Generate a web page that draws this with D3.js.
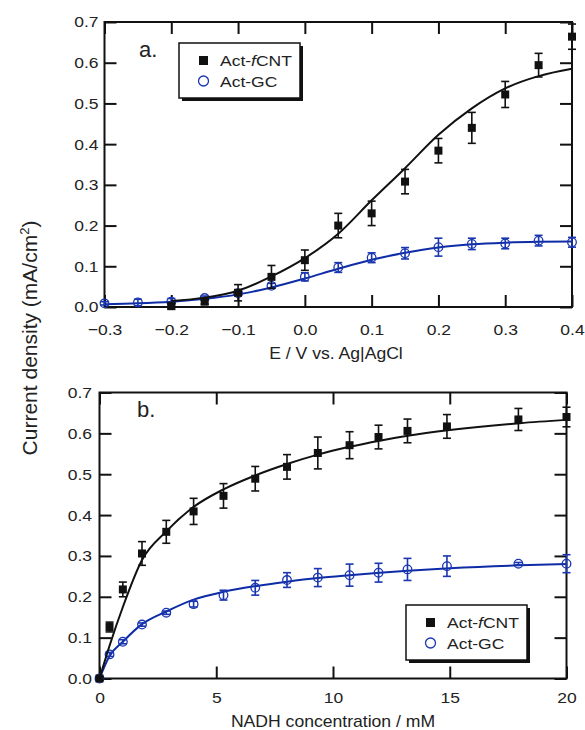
<!DOCTYPE html>
<html>
<head>
<meta charset="utf-8">
<script src="https://d3js.org/d3.v7.min.js"></script>
<style>
  body { margin: 0; background: #fff; }
  text { font-family: Arial, "Liberation Sans", sans-serif; fill: #222; }
</style>
</head>
<body>
<svg width="585" height="730" id="mainsvg"></svg>
<script>
// ---- panel a: current vs potential ----
const potGC   = [-0.3, -0.25, -0.2, -0.15, -0.1, -0.05, 0.0, 0.05, 0.1, 0.15, 0.2, 0.25, 0.3, 0.35, 0.4];
const jGC     = [0.009, 0.011, 0.013, 0.022, 0.034, 0.052, 0.074, 0.097, 0.121, 0.132, 0.147, 0.155, 0.156, 0.163, 0.159];
const errGC   = [0.004, 0.008, 0.008, 0.005, 0.006, 0.006, 0.010, 0.012, 0.012, 0.014, 0.022, 0.014, 0.013, 0.013, 0.012];
const fitGC   = [0.007, 0.009, 0.013, 0.020, 0.031, 0.048, 0.070, 0.094, 0.116, 0.133, 0.146, 0.154, 0.158, 0.160, 0.161];

const potCNT  = [-0.2, -0.15, -0.1, -0.05, 0.0, 0.05, 0.1, 0.15, 0.2, 0.25, 0.3, 0.35, 0.4];
const jCNT    = [0.002, 0.013, 0.035, 0.074, 0.115, 0.200, 0.230, 0.308, 0.384, 0.440, 0.522, 0.594, 0.664];
const errCNT  = [0.007, 0.006, 0.020, 0.028, 0.025, 0.030, 0.030, 0.030, 0.030, 0.038, 0.032, 0.029, 0.031];
const fitCNT  = [0.015, 0.023, 0.040, 0.075, 0.120, 0.180, 0.262, 0.341, 0.423, 0.488, 0.537, 0.567, 0.585];

const potTicks = [-0.3, -0.2, -0.1, 0.0, 0.1, 0.2, 0.3, 0.4];

// ---- panel b: current vs NADH ----
const nadh     = [0, 0.43, 1.0, 1.82, 2.86, 4.03, 5.31, 6.67, 8.03, 9.35, 10.71, 11.95, 13.19, 14.88, 17.94, 20];
const jCNT2    = [0, 0.126, 0.218, 0.306, 0.359, 0.409, 0.447, 0.489, 0.518, 0.552, 0.571, 0.591, 0.606, 0.617, 0.634, 0.640];
const errCNT2  = [0.003, 0.012, 0.018, 0.029, 0.028, 0.032, 0.030, 0.030, 0.030, 0.039, 0.033, 0.029, 0.029, 0.029, 0.027, 0.024];
const jGC2     = [0, 0.059, 0.090, 0.132, 0.161, 0.182, 0.204, 0.222, 0.241, 0.247, 0.253, 0.259, 0.267, 0.275, 0.281, 0.281];
const errGC2   = [0.002, 0.005, 0.005, 0.004, 0.004, 0.007, 0.012, 0.018, 0.018, 0.022, 0.027, 0.023, 0.027, 0.025, 0.003, 0.022];

const fitNadh  = [0, 0.43, 1.0, 1.82, 2.86, 4.03, 5.31, 6.67, 8.03, 9.35, 10.71, 12, 13.2, 15, 18, 20];
const fitCNT2  = [0, 0.080, 0.175, 0.290, 0.360, 0.420, 0.463, 0.497, 0.525, 0.548, 0.567, 0.582, 0.594, 0.608, 0.625, 0.633];
const fitGC2   = [0, 0.055, 0.090, 0.133, 0.164, 0.193, 0.212, 0.226, 0.237, 0.246, 0.253, 0.259, 0.264, 0.270, 0.277, 0.280];

const nadhTicks = [0, 5, 10, 15, 20];
const jTicks = [0, 0.1, 0.2, 0.3, 0.4, 0.5, 0.6, 0.7];

const blue = '#1a36b0';
const SX = 1.13;   // the original lettering is a bit wider than Arial
const svg = d3.select('#mainsvg');

// widen text horizontally around its anchor point
function stretch(sel, sx) {
  sel.each(function() {
    const t = d3.select(this);
    const x = +t.attr('x') || 0, y = +t.attr('y') || 0;
    t.attr('x', 0).attr('y', 0).attr('transform', `translate(${x},${y}) scale(${sx},1)`);
  });
}

function panel(opts) {
  const {x, y, xTicks, xFmt, label, lx, ly, xTitle, tx, ty, legend} = opts;
  const g = svg.append('g');
  const [x0, x1] = x.range();
  const [y0, y1] = y.range();

  // all ticks point inward
  const bottom = g.append('g').attr('transform', `translate(0,${y0})`)
    .call(d3.axisBottom(x).tickValues(xTicks).tickFormat(xFmt).tickSize(-12).tickSizeOuter(0).tickPadding(opts.xPad));
  const top = g.append('g').attr('transform', `translate(0,${y1})`)
    .call(d3.axisTop(x).tickValues(xTicks).tickFormat('').tickSize(-12).tickSizeOuter(0));
  const left = g.append('g').attr('transform', `translate(${x0},0)`)
    .call(d3.axisLeft(y).tickValues(jTicks).tickFormat(d3.format('.1f')).tickSize(-12).tickSizeOuter(0).tickPadding(opts.yPad));
  const right = g.append('g').attr('transform', `translate(${x1},0)`)
    .call(d3.axisRight(y).tickValues(jTicks).tickFormat('').tickSize(-12).tickSizeOuter(0));
  [bottom, top, left, right].forEach(a => {
    a.select('.domain').remove();
    a.selectAll('line').attr('stroke', '#111').attr('stroke-width', 2);
    a.selectAll('text').attr('font-size', 15.5).attr('fill', '#222')
      .attr('font-family', 'Arial, "Liberation Sans", sans-serif');
  });
  stretch(bottom.selectAll('text'), SX);
  stretch(left.selectAll('text'), SX);

  g.append('rect').attr('x', x0).attr('y', y1).attr('width', x1 - x0).attr('height', y0 - y1)
    .attr('fill', 'none').attr('stroke', '#111').attr('stroke-width', 2);

  g.append('text').attr('x', lx).attr('y', ly).attr('font-size', 22).text(label);
  g.append('text').attr('x', tx).attr('y', ty).attr('font-size', 16)
    .attr('text-anchor', 'middle').text(xTitle).call(stretch, 1.1);

  // legend with drop shadow
  const lg = g.append('g').attr('transform', `translate(${legend[0]},${legend[1]})`);
  lg.append('rect').attr('x', 3).attr('y', 3).attr('width', 121).attr('height', 55).attr('fill', '#111');
  lg.append('rect').attr('width', 121).attr('height', 55).attr('fill', '#fff')
    .attr('stroke', '#111').attr('stroke-width', 1.5);
  lg.append('rect').attr('x', 20).attr('y', 13).attr('width', 9).attr('height', 9).attr('fill', '#111');
  const t1 = lg.append('text').attr('x', 41).attr('y', 23).attr('font-size', 15.5);
  t1.append('tspan').text('Act-');
  t1.append('tspan').attr('font-style', 'italic').text('f');
  t1.append('tspan').text('CNT');
  lg.append('circle').attr('cx', 24.5).attr('cy', 38).attr('r', 5)
    .attr('fill', 'none').attr('stroke', blue).attr('stroke-width', 1.3);
  const t2 = lg.append('text').attr('x', 41).attr('y', 44).attr('font-size', 15.5).text('Act-GC');
  stretch(t1, SX);
  stretch(t2, SX);
  return g;
}

function series(g, x, y, xs, ys, errs, fitX, fitY, kind) {
  const color = kind === 'sq' ? '#111' : blue;
  const line = d3.line().x((d, i) => x(fitX[i])).y(d => y(d)).curve(d3.curveMonotoneX);
  g.append('path').datum(fitY).attr('d', line)
    .attr('fill', 'none').attr('stroke', kind === 'sq' ? '#111' : '#0e2ca6').attr('stroke-width', 2);

  const pts = xs.map((v, i) => ({x: v, y: ys[i], e: errs[i]}));
  const eb = g.append('g').attr('stroke', color).attr('stroke-width', 1.6);
  pts.forEach(d => {
    const cx = x(d.x), yt = y(d.y + d.e), yb = y(d.y - d.e);
    eb.append('line').attr('x1', cx).attr('x2', cx).attr('y1', yt).attr('y2', yb);
    eb.append('line').attr('x1', cx - 4).attr('x2', cx + 4).attr('y1', yt).attr('y2', yt);
    eb.append('line').attr('x1', cx - 4).attr('x2', cx + 4).attr('y1', yb).attr('y2', yb);
  });
  if (kind === 'sq') {
    g.selectAll(null).data(pts).join('rect')
      .attr('x', d => x(d.x) - 4).attr('y', d => y(d.y) - 4)
      .attr('width', 8).attr('height', 8).attr('fill', '#111');
  } else {
    g.selectAll(null).data(pts).join('circle')
      .attr('cx', d => x(d.x)).attr('cy', d => y(d.y)).attr('r', 4.3)
      .attr('fill', 'none').attr('stroke', blue).attr('stroke-width', 1.3);
  }
}

// panel a
const xA = d3.scaleLinear().domain([-0.3, 0.4]).range([104.5, 572]);
const yA = d3.scaleLinear().domain([0, 0.7]).range([307, 22]);
const gA = panel({x: xA, y: yA, xTicks: potTicks, xFmt: d3.format('.1f'), xPad: 17, yPad: 6,
  label: 'a.', lx: 139, ly: 57, xTitle: 'E / V vs. Ag|AgCl', tx: 336, ty: 359, legend: [179, 43]});
series(gA, xA, yA, potGC, jGC, errGC, potGC, fitGC, 'circ');
series(gA, xA, yA, potCNT, jCNT, errCNT, potCNT, fitCNT, 'sq');

// panel b
const xB = d3.scaleLinear().domain([0, 20]).range([99.5, 566.5]);
const yB = d3.scaleLinear().domain([0, 0.7]).range([678.5, 392.5]);
const gB = panel({x: xB, y: yB, xTicks: nadhTicks, xFmt: d3.format('d'), xPad: 13.5, yPad: 7.5,
  label: 'b.', lx: 137, ly: 417, xTitle: 'NADH concentration / mM', tx: 333, ty: 727, legend: [406, 605]});
series(gB, xB, yB, nadh, jGC2, errGC2, fitNadh, fitGC2, 'circ');
series(gB, xB, yB, nadh, jCNT2, errCNT2, fitNadh, fitCNT2, 'sq');

// shared y title
const yt = svg.append('text').attr('transform', 'translate(37,338) rotate(-90)')
  .attr('text-anchor', 'middle').attr('font-size', 21);
yt.append('tspan').text('Current density (mA/cm');
yt.append('tspan').attr('font-size', 13).attr('dy', -8).text('2');
yt.append('tspan').attr('dy', 8).text(')');
</script>
</body>
</html>
